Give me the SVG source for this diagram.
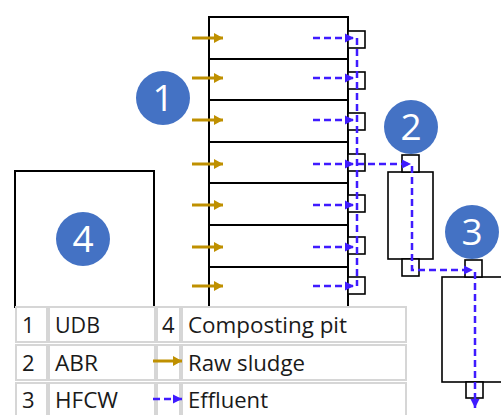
<svg xmlns="http://www.w3.org/2000/svg" width="501" height="415" viewBox="0 0 501 415">
<style>
.box{fill:#fff;stroke:#000;stroke-width:2}
.thin{fill:#fff;stroke:#000;stroke-width:1.6}
.sludge{fill:none;stroke:#BF9000;stroke-width:3}
.eff{fill:none;stroke:#3F1BFF;stroke-width:2.5;stroke-dasharray:7 4}
.badge{fill:#4472C4}
.num{font-family:"Open Sans","Liberation Sans",sans-serif;font-size:37px;fill:#fff;text-anchor:middle}
.cell{fill:#fff;stroke:#D6D6D6;stroke-width:2}
.lbl{font-family:"Open Sans","Liberation Sans",sans-serif;font-size:22px;fill:#1a1a1a}
</style>
<defs>
<marker id="ab" markerUnits="userSpaceOnUse" markerWidth="10" markerHeight="10" refX="9" refY="5" orient="auto">
<path d="M0,0 L9,5 L0,10 z" fill="#BF9000"/>
</marker>
<marker id="ae" markerUnits="userSpaceOnUse" markerWidth="10" markerHeight="10" refX="9" refY="5" orient="auto">
<path d="M0,0.5 L9,5 L0,9.5 z" fill="#3F1BFF"/>
</marker>
</defs>

<g id="node-udb">
<rect class="box" x="209" y="17" width="139" height="291"/>
<path d="M209,59 H348 M209,100 H348 M209,142 H348 M209,183 H348 M209,225 H348 M209,267 H348" stroke="#000" stroke-width="2"/>
<rect class="thin" x="348" y="31" width="17" height="17"/>
<rect class="thin" x="348" y="72" width="17" height="17"/>
<rect class="thin" x="348" y="113" width="17" height="17"/>
<rect class="thin" x="348" y="154" width="17" height="17"/>
<rect class="thin" x="348" y="195" width="17" height="17"/>
<rect class="thin" x="348" y="237" width="17" height="17"/>
<rect class="thin" x="348" y="277" width="17" height="17"/>
<circle class="badge" cx="163" cy="98" r="27"/>
<text class="num" x="163" y="111">1</text>
</g>

<g id="node-abr">
<rect class="thin" x="388" y="172" width="45" height="87"/>
<rect class="thin" x="402" y="155" width="17" height="17"/>
<rect class="thin" x="402" y="259" width="17" height="17"/>
<circle class="badge" cx="411" cy="127" r="27"/>
<text class="num" x="411" y="140">2</text>
</g>

<g id="node-hfcw">
<rect class="thin" x="442" y="277" width="70" height="105"/>
<rect class="thin" x="465" y="260" width="17" height="17"/>
<rect class="thin" x="466" y="382" width="17" height="16"/>
<circle class="badge" cx="472" cy="232" r="27"/>
<text class="num" x="472" y="245">3</text>
</g>

<g id="node-pit">
<rect class="box" x="15" y="171" width="139" height="136"/>
<circle class="badge" cx="83" cy="239" r="27"/>
<text class="num" x="83" y="252">4</text>
</g>

<g id="connectors">
<path class="sludge" d="M192,38 H223" marker-end="url(#ab)"/>
<path class="sludge" d="M192,78 H223" marker-end="url(#ab)"/>
<path class="sludge" d="M192,120 H223" marker-end="url(#ab)"/>
<path class="sludge" d="M192,164 H223" marker-end="url(#ab)"/>
<path class="sludge" d="M192,205 H223" marker-end="url(#ab)"/>
<path class="sludge" d="M192,247 H223" marker-end="url(#ab)"/>
<path class="sludge" d="M192,286 H223" marker-end="url(#ab)"/>

<path class="eff" d="M313,38 H354" marker-end="url(#ae)"/>
<path class="eff" d="M313,78 H354" marker-end="url(#ae)"/>
<path class="eff" d="M313,120 H354" marker-end="url(#ae)"/>
<path class="eff" d="M313,164 H354" marker-end="url(#ae)"/>
<path class="eff" d="M313,205 H354" marker-end="url(#ae)"/>
<path class="eff" d="M313,247 H354" marker-end="url(#ae)"/>
<path class="eff" d="M313,286 H354" marker-end="url(#ae)"/>
<path class="eff" d="M357,38 V286"/>
<path class="eff" d="M357,164 H411" marker-end="url(#ae)"/>
<path class="eff" d="M412,166 V270 H473" marker-end="url(#ae)"/>
<path class="eff" d="M475,272 V408" marker-end="url(#ae)"/>
</g>

<g id="legend">
<rect class="cell" x="16" y="307" width="31" height="35"/>
<rect class="cell" x="49" y="307" width="106" height="35"/>
<rect class="cell" x="157" y="307" width="23" height="35"/>
<rect class="cell" x="182" y="307" width="224" height="35"/>
<rect class="cell" x="16" y="345" width="31" height="35"/>
<rect class="cell" x="49" y="345" width="106" height="35"/>
<rect class="cell" x="157" y="345" width="23" height="35"/>
<rect class="cell" x="182" y="345" width="224" height="35"/>
<rect class="cell" x="16" y="383" width="31" height="35"/>
<rect class="cell" x="49" y="383" width="106" height="35"/>
<rect class="cell" x="157" y="383" width="23" height="35"/>
<rect class="cell" x="182" y="383" width="224" height="35"/>
<text class="lbl" x="22" y="333">1</text>
<text class="lbl" x="55" y="333" textLength="45" lengthAdjust="spacingAndGlyphs">UDB</text>
<text class="lbl" x="162" y="333">4</text>
<text class="lbl" x="188" y="333" textLength="159" lengthAdjust="spacingAndGlyphs">Composting pit</text>
<text class="lbl" x="22" y="371">2</text>
<text class="lbl" x="55" y="371" textLength="43" lengthAdjust="spacingAndGlyphs">ABR</text>
<path class="sludge" d="M153,361 H182" marker-end="url(#ab)"/>
<text class="lbl" x="188" y="371" textLength="117" lengthAdjust="spacingAndGlyphs">Raw sludge</text>
<text class="lbl" x="22" y="408">3</text>
<text class="lbl" x="55" y="408" textLength="63" lengthAdjust="spacingAndGlyphs">HFCW</text>
<path class="eff" d="M153,399 H182" marker-end="url(#ae)"/>
<text class="lbl" x="188" y="408" textLength="80" lengthAdjust="spacingAndGlyphs">Effluent</text>
</g>
</svg>
